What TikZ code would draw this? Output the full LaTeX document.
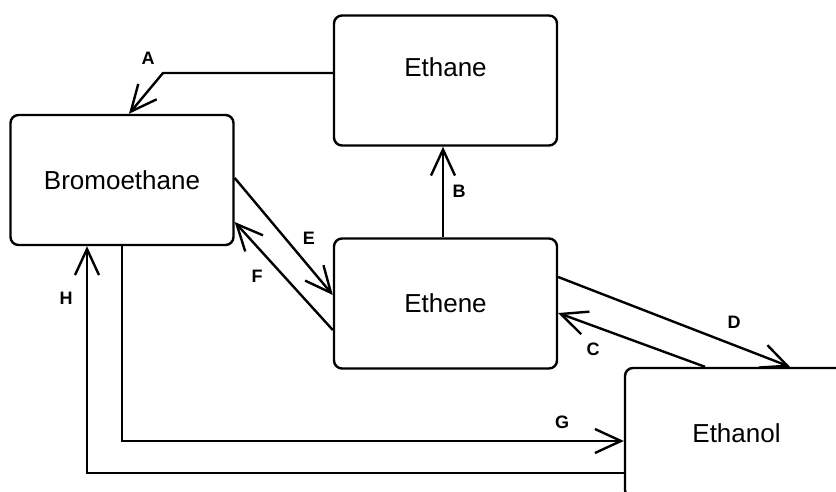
\documentclass[tikz,border=0pt]{standalone}
\usepackage{fontspec}
\setmainfont{Liberation Sans}
\usetikzlibrary{arrows.meta}
\tikzset{
  box/.style={draw, line width=2.4pt, rounded corners=8pt, minimum width=223pt, minimum height=130pt, inner sep=0pt, font=\fontsize{26}{30}\selectfont},
  arr/.style={line width=2.4pt, -{Straight Barb[length=26pt,width=24pt,line width=2.4pt]}},
  lab/.style={font=\bfseries\fontsize{18}{20}\selectfont, inner sep=0pt}
}
\begin{document}
\begin{tikzpicture}[x=1pt,y=-1pt]
\useasboundingbox (0,0) rectangle (836,492);
\clip (0,0) rectangle (836,492);
\node[box, label={[font=\fontsize{26}{30}\selectfont, yshift=13pt]center:Ethane}] (ethane) at (445.5,80.5) {};
\node[box] (brom) at (122,180) {Bromoethane};
\node[box] (ethene) at (445.5,303.5) {Ethene};
\node[box] (ethanol) at (736.5,433) {Ethanol};
\coordinate (a1) at (163,73);
% A
\draw[arr] (ethane.west |- 0,73) -- (a1) -- (brom.north -| 129,0);
% B
\draw[arr] (ethene.north -| 443,0) -- (ethane.south -| 443,0);
% E
\draw[arr] (brom.east |- 0,178) -- (ethene.west |- 0,295);
% F
\draw[arr] (ethene.west |- 0,330) -- (brom.east |- 0,222);
% D
\draw[arr] (ethene.east |- 0,277) -- (ethanol.north -| 790,0);
% C
\draw[arr] (ethanol.north -| 705,0) -- (ethene.east |- 0,313);
% G
\draw[arr] (brom.south) |- (ethanol.west |- 0,441);
% H
\draw[arr] (ethanol.west |- 0,473) -| (brom.south -| 87,0);
\node[lab] (la) at (148,58) {A};
\node[lab] (lb) at (459,191) {B};
\node[lab] (le) at (309,238) {E};
\node[lab] (lf) at (257,276) {F};
\node[lab] (ld) at (734,322) {D};
\node[lab] (lc) at (593,349) {C};
\node[lab] (lg) at (562,422) {G};
\node[lab] (lh) at (66,298) {H};
\end{tikzpicture}
\end{document}
